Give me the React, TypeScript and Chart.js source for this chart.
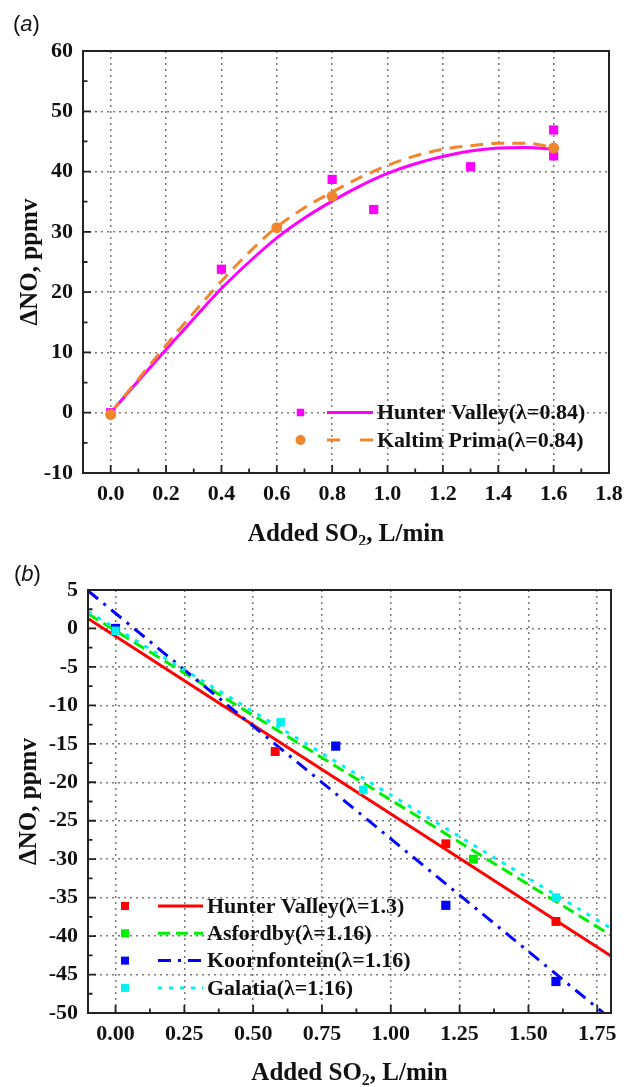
import React, { useEffect, useRef } from 'react';
import { Chart, registerables } from 'chart.js';

Chart.register(...registerables);

// ---------- Panel (a) data ----------
const aHunterX = [0, 0.4, 0.8, 0.95, 1.3, 1.6, 1.6];
const aHunterY = [0, 23.8, 38.7, 33.7, 40.8, 46.9, 42.6];
const aKaltimX = [0, 0.6, 0.8, 1.6];
const aKaltimY = [-0.3, 30.7, 35.9, 43.9];
const aFitX = [0, 0.1, 0.2, 0.3, 0.4, 0.5, 0.6, 0.7, 0.8, 0.9, 1.0, 1.1, 1.2, 1.3, 1.4, 1.5, 1.6];
const aHunterFitY = [0, 5.3, 10.5, 15.6, 20.6, 25.0, 29.0, 32.3, 35.1, 37.6, 39.7, 41.3, 42.5, 43.4, 43.9, 44.0, 43.7];
const aKaltimFitY = [0, 5.6, 11.2, 16.6, 21.8, 26.6, 30.8, 34.0, 36.6, 39.0, 41.0, 42.6, 43.7, 44.3, 44.7, 44.7, 44.0];
const aXTicks = [0, 0.2, 0.4, 0.6, 0.8, 1.0, 1.2, 1.4, 1.6, 1.8];
const aXMinor = [0.1, 0.3, 0.5, 0.7, 0.9, 1.1, 1.3, 1.5, 1.7];
const aYTicks = [-10, 0, 10, 20, 30, 40, 50, 60];
const aYMinor = [-5, 5, 15, 25, 35, 45, 55];
const aLegend = ['Hunter Valley(λ=0.84)', 'Kaltim Prima(λ=0.84)'];

// ---------- Panel (b) data ----------
const bHunterX = [0, 0.58, 1.2, 1.6];
const bHunterY = [0, -16, -28, -38.1];
const bAsfordbyX = [0, 1.3];
const bAsfordbyY = [0, -30];
const bKoornX = [0, 0.8, 1.2, 1.6];
const bKoornY = [0, -15.3, -36, -45.9];
const bGalatiaX = [0, 0.6, 0.9, 1.6];
const bGalatiaY = [-0.3, -12.2, -21, -35];
const bFitX = [-0.1, 1.8];
const bHunterFitY = [1.3, -42.6];
const bAsfordbyFitY = [1.9, -39.9];
const bKoornFitY = [4.9, -50.8];
const bGalatiaFitY = [2.2, -39.0];
const bXTicks = [0, 0.25, 0.5, 0.75, 1.0, 1.25, 1.5, 1.75];
const bXMinor = [0.125, 0.375, 0.625, 0.875, 1.125, 1.375, 1.625];
const bYTicks = [-50, -45, -40, -35, -30, -25, -20, -15, -10, -5, 0, 5];
const bYMinor = [-47.5, -42.5, -37.5, -32.5, -27.5, -22.5, -17.5, -12.5, -7.5, -2.5, 2.5];
const bLegend = ['Hunter Valley(λ=1.3)', 'Asfordby(λ=1.16)', 'Koornfontein(λ=1.16)', 'Galatia(λ=1.16)'];

const SERIF = "'Liberation Serif', 'Times New Roman', 'DejaVu Serif', serif";
const SANS = "'Liberation Sans', Arial, 'DejaVu Sans', sans-serif";

const pts = (xs: number[], ys: number[]) => xs.map((x, i) => ({ x, y: ys[i] }));

type LegendEntry = { label: string; color: string; marker: 'rect' | 'circle'; dash: number[] };

interface Panel {
  height: number;
  padTop: number;
  padRight: number;
  yWidth: number;
  xHeight: number;
  xMin: number; xMax: number; yMin: number; yMax: number;
  xTicks: number[]; yTicks: number[]; xMinor: number[]; yMinor: number[];
  xDec: number;
  datasets: any[];
  legend: LegendEntry[];
  legendPos: { marker: number; l0: number; l1: number; text: number; y0: number; dy: number; msize: number };
  letter: string;
  letterPos: { x: number; y: number };
  yTitle: { x: number };
  xTitle: { y: number };
}

const scatter = (xs: number[], ys: number[], color: string, style: string, r: number, order: number) => ({
  type: 'scatter',
  data: pts(xs, ys),
  pointStyle: style,
  pointRadius: r,
  pointBackgroundColor: color,
  pointBorderColor: color,
  pointBorderWidth: 0,
  showLine: false,
  order,
});

const fit = (xs: number[], ys: number[], color: string, dash: number[], order: number, w = 3) => ({
  type: 'line',
  data: pts(xs, ys),
  borderColor: color,
  borderWidth: w,
  borderDash: dash,
  pointRadius: 0,
  showLine: true,
  fill: false,
  tension: 0.4,
  cubicInterpolationMode: 'monotone',
  order,
});

const MAG = '#FF00FF';
const ORG = '#F0862E';
const RED = '#FF0000';
const GRN = '#00EE00';
const BLU = '#0000FF';
const CYN = '#00F0F0';

const panelA: Panel = {
  height: 545,
  padTop: 51,
  padRight: 24,
  yWidth: 83,
  xHeight: 72,
  xMin: -0.1, xMax: 1.8, yMin: -10, yMax: 60,
  xTicks: aXTicks, yTicks: aYTicks, xMinor: aXMinor, yMinor: aYMinor,
  xDec: 1,
  datasets: [
    fit(aFitX, aHunterFitY, MAG, [], 3),
    fit(aFitX, aKaltimFitY, ORG, [13, 8], 2),
    scatter(aHunterX, aHunterY, MAG, 'rect', 6.5, 1),
    scatter(aKaltimX, aKaltimY, ORG, 'circle', 5.5, 0),
  ],
  legend: [
    { label: aLegend[0], color: MAG, marker: 'rect', dash: [] },
    { label: aLegend[1], color: ORG, marker: 'circle', dash: [13, 20] },
  ],
  legendPos: { marker: 300.5, l0: 327, l1: 373, text: 377, y0: 412.5, dy: 27.5, msize: 7.5 },
  letter: 'a',
  letterPos: { x: 13, y: 25 },
  yTitle: { x: 31 },
  xTitle: { y: 535 },
};

const panelB: Panel = {
  height: 542,
  padTop: 45,
  padRight: 22,
  yWidth: 88,
  xHeight: 74,
  xMin: -0.1, xMax: 1.8, yMin: -50, yMax: 5,
  xTicks: bXTicks, yTicks: bYTicks, xMinor: bXMinor, yMinor: bYMinor,
  xDec: 2,
  datasets: [
    fit(bFitX, bHunterFitY, RED, [], 7),
    fit(bFitX, bAsfordbyFitY, GRN, [12, 6], 6),
    fit(bFitX, bKoornFitY, BLU, [13, 7, 3, 7], 5),
    fit(bFitX, bGalatiaFitY, CYN, [4, 7], 4),
    scatter(bHunterX, bHunterY, RED, 'rect', 6.3, 3),
    scatter(bAsfordbyX, bAsfordbyY, GRN, 'rect', 6.3, 2),
    scatter(bKoornX, bKoornY, BLU, 'rect', 6.5, 1),
    scatter(bGalatiaX, bGalatiaY, CYN, 'rect', 6.0, 0),
  ],
  legend: [
    { label: bLegend[0], color: RED, marker: 'rect', dash: [] },
    { label: bLegend[1], color: GRN, marker: 'rect', dash: [12, 6] },
    { label: bLegend[2], color: BLU, marker: 'rect', dash: [13, 7, 3, 7] },
    { label: bLegend[3], color: CYN, marker: 'rect', dash: [4, 7] },
  ],
  legendPos: { marker: 125, l0: 158, l1: 203, text: 207, y0: 361, dy: 27.3, msize: 8 },
  letter: 'b',
  letterPos: { x: 14, y: 30 },
  yTitle: { x: 30 },
  xTitle: { y: 529 },
};

function makeChart(canvas: HTMLCanvasElement, p: Panel) {
  const decor = {
    id: 'decor' + p.letter,
    afterDatasetsDraw(chart: any) {
      const ctx: CanvasRenderingContext2D = chart.ctx;
      ctx.save();
      const L = p.legendPos;
      p.legend.forEach((e, i) => {
        const y = L.y0 + i * L.dy;
        ctx.fillStyle = e.color;
        if (e.marker === 'rect') {
          ctx.fillRect(L.marker - L.msize / 2, y - L.msize / 2, L.msize, L.msize);
        } else {
          ctx.beginPath();
          ctx.arc(L.marker, y, 5, 0, Math.PI * 2);
          ctx.fill();
        }
        ctx.strokeStyle = e.color;
        ctx.lineWidth = 3;
        ctx.setLineDash(e.dash);
        ctx.beginPath();
        ctx.moveTo(L.l0, y);
        ctx.lineTo(L.l1, y);
        ctx.stroke();
        ctx.setLineDash([]);
        ctx.fillStyle = '#111';
        ctx.font = `bold 22px ${SERIF}`;
        ctx.textAlign = 'left';
        ctx.textBaseline = 'middle';
        ctx.fillText(e.label, L.text, y + 1);
      });
      ctx.restore();
    },
    afterDraw(chart: any) {
      const ctx: CanvasRenderingContext2D = chart.ctx;
      const a = chart.chartArea;
      const xs = chart.scales.x;
      const ys = chart.scales.y;
      ctx.save();
      ctx.strokeStyle = '#222';
      ctx.lineWidth = 2;
      ctx.setLineDash([]);
      ctx.strokeRect(a.left, a.top, a.right - a.left, a.bottom - a.top);
      ctx.lineWidth = 1.8;
      ctx.beginPath();
      p.xTicks.forEach((v) => {
        const px = xs.getPixelForValue(v);
        ctx.moveTo(px, a.bottom);
        ctx.lineTo(px, a.bottom - 8);
      });
      p.xMinor.forEach((v) => {
        const px = xs.getPixelForValue(v);
        ctx.moveTo(px, a.bottom);
        ctx.lineTo(px, a.bottom - 4.5);
      });
      p.yTicks.forEach((v) => {
        const py = ys.getPixelForValue(v);
        ctx.moveTo(a.left, py);
        ctx.lineTo(a.left + 8, py);
      });
      p.yMinor.forEach((v) => {
        const py = ys.getPixelForValue(v);
        ctx.moveTo(a.left, py);
        ctx.lineTo(a.left + 4.5, py);
      });
      ctx.stroke();

      ctx.fillStyle = '#111';
      ctx.textBaseline = 'middle';
      ctx.font = `bold 25px ${SERIF}`;
      ctx.save();
      ctx.translate(p.yTitle.x, (a.top + a.bottom) / 2);
      ctx.rotate(-Math.PI / 2);
      ctx.textAlign = 'center';
      ctx.fillText('ΔNO, ppmv', 0, 0);
      ctx.restore();

      const t1 = 'Added SO';
      const t2 = '2';
      const t3 = ', L/min';
      ctx.font = `bold 25px ${SERIF}`;
      const w1 = ctx.measureText(t1).width;
      const w3 = ctx.measureText(t3).width;
      ctx.font = `bold 16px ${SERIF}`;
      const w2 = ctx.measureText(t2).width;
      const total = w1 + w2 + w3;
      let sx = (a.left + a.right) / 2 - total / 2;
      const ty = p.xTitle.y;
      ctx.textAlign = 'left';
      ctx.font = `bold 25px ${SERIF}`;
      ctx.fillText(t1, sx, ty);
      sx += w1;
      ctx.font = `bold 16px ${SERIF}`;
      ctx.fillText(t2, sx, ty + 7);
      sx += w2;
      ctx.font = `bold 25px ${SERIF}`;
      ctx.fillText(t3, sx, ty);

      const lp = p.letterPos;
      ctx.font = `22px ${SANS}`;
      ctx.fillText('(', lp.x, lp.y);
      let lx = lp.x + ctx.measureText('(').width;
      ctx.font = `italic 22px ${SANS}`;
      ctx.fillText(p.letter, lx, lp.y);
      lx += ctx.measureText(p.letter).width;
      ctx.font = `22px ${SANS}`;
      ctx.fillText(')', lx, lp.y);
      ctx.restore();
    },
  };

  return new Chart(canvas, {
    type: 'scatter',
    data: { datasets: p.datasets as any },
    options: {
      animation: false,
      responsive: false,
      maintainAspectRatio: false,
      devicePixelRatio: 1,
      layout: { padding: { top: p.padTop, right: p.padRight, left: 0, bottom: 0 } },
      plugins: { legend: { display: false }, tooltip: { enabled: false } },
      scales: {
        x: {
          type: 'linear',
          min: p.xMin,
          max: p.xMax,
          afterBuildTicks: (s: any) => { s.ticks = p.xTicks.map((v) => ({ value: v })); },
          afterFit: (s: any) => { s.height = p.xHeight; },
          grid: { color: '#7a7a7a', lineWidth: 1.5, drawTicks: false },
          border: { display: false, dash: [2, 4] },
          ticks: {
            padding: 8,
            color: '#111',
            font: { family: SERIF, size: 22, weight: 'bold' },
            maxRotation: 0,
            autoSkip: false,
            callback: (v: any) => Number(v).toFixed(p.xDec),
          },
        },
        y: {
          type: 'linear',
          min: p.yMin,
          max: p.yMax,
          afterBuildTicks: (s: any) => { s.ticks = p.yTicks.map((v) => ({ value: v })); },
          afterFit: (s: any) => { s.width = p.yWidth; },
          grid: { color: '#7a7a7a', lineWidth: 1.5, drawTicks: false },
          border: { display: false, dash: [2, 4] },
          ticks: {
            padding: 10,
            color: '#111',
            font: { family: SERIF, size: 22, weight: 'bold' },
            autoSkip: false,
            callback: (v: any) => String(v),
          },
        },
      },
    },
    plugins: [decor],
  } as any);
}

function ChartPanel({ panel, top }: { panel: Panel; top: number }) {
  const ref = useRef<HTMLCanvasElement | null>(null);
  useEffect(() => {
    if (!ref.current) return;
    const c = makeChart(ref.current, panel);
    return () => c.destroy();
  }, [panel]);
  return (
    <canvas
      ref={ref}
      width={633}
      height={panel.height}
      style={{ position: 'absolute', left: 0, top, width: 633, height: panel.height, display: 'block' }}
    />
  );
}

export default function App() {
  return (
    <div style={{ position: 'absolute', left: 0, top: 0, width: 633, height: 1087, background: '#fff' }}>
      <ChartPanel panel={panelA} top={0} />
      <ChartPanel panel={panelB} top={545} />
    </div>
  );
}
